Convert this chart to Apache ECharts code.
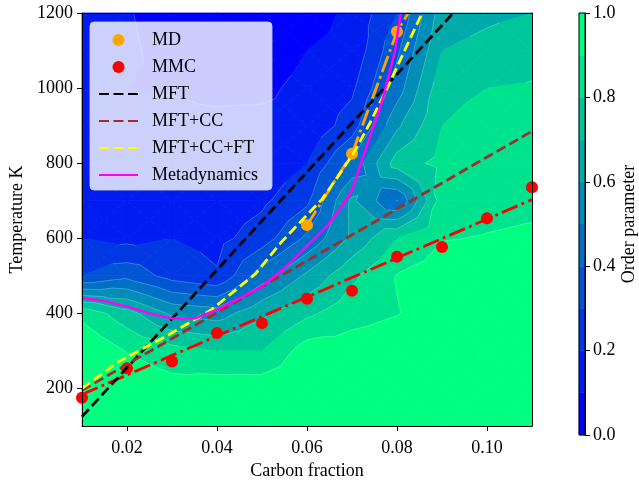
<!DOCTYPE html>
<html><head><meta charset="utf-8">
<script src="https://cdn.jsdelivr.net/npm/echarts@6/dist/echarts.min.js"></script>
<style>html,body{margin:0;padding:0;background:#fff}#c{width:639px;height:485px}</style>
</head><body><div id="c"></div>
<script>
// ---------------- data ----------------
const carbon = [0.01,0.02,0.03,0.04,0.05,0.06,0.07,0.08,0.09,0.10,0.11];
const temps = [100,200,300,400,500,600,700,800,900,1000,1100,1200];
// order parameter, one row per temperature (ascending), one column per carbon fraction
const order = [
 [1.00,1.00,1.00,0.98,0.98,1.00,1.00,1.00,1.00,1.00,1.00],
 [1.00,0.98,0.94,0.96,0.96,0.98,0.99,0.99,1.00,1.00,1.00],
 [1.00,0.895,0.84,0.80,0.80,0.95,0.95,0.97,0.98,0.99,0.99],
 [0.87,0.74,0.58,0.55,0.68,0.78,0.86,0.895,0.96,0.97,0.98],
 [0.30,0.37,0.26,0.21,0.45,0.62,0.78,0.905,0.95,0.97,0.98],
 [0.20,0.17,0.20,0.17,0.25,0.42,0.62,0.80,0.895,0.905,0.915],
 [0.14,0.14,0.15,0.14,0.18,0.28,0.62,0.395,0.85,0.87,0.88],
 [0.13,0.13,0.13,0.13,0.13,0.20,0.42,0.75,0.83,0.86,0.86],
 [0.13,0.12,0.12,0.12,0.12,0.12,0.25,0.58,0.80,0.84,0.84],
 [0.12,0.10,0.095,0.08,0.085,0.12,0.18,0.45,0.77,0.80,0.81],
 [0.12,0.11,0.08,0.05,0.06,0.10,0.12,0.38,0.70,0.73,0.76],
 [0.12,0.105,0.07,0.05,0.05,0.06,0.12,0.30,0.65,0.68,0.70]
];
const levels = [0,0.1,0.2,0.3,0.4,0.5,0.6,0.7,0.8,0.9,1.0];

const mdX = [0.06,0.07,0.08];
const mdT = [635,825,1150];
const mdFitX = [0.06,0.07,0.08,0.0825];
const mdFitT = [635,825,1150,1200];

const mmcX = [0.01,0.02,0.03,0.04,0.05,0.06,0.07,0.08,0.09,0.10,0.11];
const mmcT = [175,254,272,348,374,439,460,551,577,653,736];
const mmcFitX = [0.01,0.11];
const mmcFitT = [184,703];

const mftX = [0.01,0.0925];
const mftT = [125,1200];
const mftCcX = [0.01,0.11];
const mftCcT = [195,885];
const mftCcFtX = [0.01,0.0182,0.0293,0.0388,0.0486,0.0544,0.0634,0.0675,0.071,0.0739,0.0783,0.082,0.0856];
const mftCcFtT = [200,272,343,410,506,591,705,775,840,905,1012,1108,1200];
const metaX = [0.01,0.015,0.02,0.025,0.03,0.035,0.04,0.045,0.05,0.055,0.06,0.0645,0.0675,0.07,0.072,0.074,0.0767,0.0796,0.0808];
const metaT = [441,433,418,400,386,386,410,440,472,520,580,633,680,728,800,870,965,1100,1200];

const xTicks = [0.02,0.04,0.06,0.08,0.10];
const yTicks = [200,400,600,800,1000,1200];
const cbTicks = [0,0.2,0.4,0.6,0.8,1.0];

// ---------------- helpers ----------------
const FONT = 'Liberation Serif';
function winter(t){ return 'rgb(0,' + Math.round(255*t) + ',' + Math.round(255*(1-0.5*t)) + ')'; }
const nBands = levels.length - 1;
const bandColors = levels.slice(0,-1).map((_,k)=>winter(k/(nBands-1)));

function clip(poly, level, above){
  const out = [];
  for (let i=0;i<poly.length;i++){
    const a = poly[i], b = poly[(i+1)%poly.length];
    const ia = above ? a.v >= level : a.v <= level;
    const ib = above ? b.v >= level : b.v <= level;
    if (ia) out.push(a);
    if (ia !== ib){
      const t = (level - a.v)/(b.v - a.v);
      out.push({x:a.x+t*(b.x-a.x), y:a.y+t*(b.y-a.y), v:level});
    }
  }
  return out;
}
const tris = [];
for (let j=0;j<temps.length-1;j++){
  for (let i=0;i<carbon.length-1;i++){
    const p00={x:carbon[i],y:temps[j],v:order[j][i]};
    const p10={x:carbon[i+1],y:temps[j],v:order[j][i+1]};
    const p01={x:carbon[i],y:temps[j+1],v:order[j+1][i]};
    const p11={x:carbon[i+1],y:temps[j+1],v:order[j+1][i+1]};
    const c={x:(p00.x+p10.x)/2,y:(p00.y+p01.y)/2,v:(p00.v+p10.v+p01.v+p11.v)/4};
    tris.push([p00,p10,c],[p10,p11,c],[p11,p01,c],[p01,p00,c]);
  }
}
const bandPolys = [];
tris.forEach(tri=>{
  for (let k=0;k<nBands;k++){
    let p = clip(tri, levels[k], true);
    if (p.length<3) continue;
    p = clip(p, levels[k+1], false);
    if (p.length<3) continue;
    bandPolys.push({k:k, pts:p.map(q=>[q.x,q.y])});
  }
});
const segs = [];
tris.forEach(tri=>{
  for (let k=1;k<nBands;k++){
    const L = levels[k], pts=[];
    for (let i=0;i<3;i++){
      const a=tri[i], b=tri[(i+1)%3];
      if ((a.v-L)*(b.v-L)<0){
        const t=(L-a.v)/(b.v-a.v);
        pts.push([a.x+t*(b.x-a.x), a.y+t*(b.y-a.y)]);
      }
    }
    if (pts.length===2) segs.push(pts);
  }
});
const cbBands = levels.slice(0,-1).map((lo,k)=>[lo, levels[k+1], k]);

function pairs(xs, ys){ return xs.map((x,i)=>[x, ys[i]]); }
const txt = {fontFamily:FONT, fontSize:18, color:'#000'};
const noSym = {opacity:0};

const chart = echarts.init(document.getElementById('c'), null, {renderer:'canvas'});
chart.setOption({
  animation:false,
  backgroundColor:'#fff',
  grid:[
    {left:82, top:13, width:450, height:422},
    {left:579, top:13, width:21, height:422}
  ],
  legend:{
    left:90, top:22, orient:'vertical',
    backgroundColor:'rgba(255,255,255,0.8)', borderColor:'rgba(204,204,204,0.9)', borderWidth:1, borderRadius:4,
    padding:[9,14,6,8], itemWidth:39, itemHeight:12, itemGap:9,
    textStyle:{fontFamily:FONT, fontSize:18, color:'#000', padding:[0,0,0,9]},
    data:[{name:'MD',icon:'circle'},{name:'MMC',icon:'circle'},
          {name:'MFT',itemStyle:noSym},{name:'MFT+CC',itemStyle:noSym},
          {name:'MFT+CC+FT',itemStyle:noSym},{name:'Metadynamics',itemStyle:noSym}]
  },
  xAxis:[
    {type:'value', gridIndex:0, min:0.01, max:0.11, position:'bottom', z:10,
     axisLine:{show:true,onZero:false,lineStyle:{color:'#000',width:1}},
     axisTick:{show:true,customValues:xTicks,length:5,lineStyle:{color:'#000'}},
     axisLabel:{customValues:xTicks, formatter:v=>v.toFixed(2), margin:13, ...txt},
     splitLine:{show:false},
     name:'Carbon fraction', nameLocation:'middle', nameGap:36, nameTextStyle:txt},
    {type:'value', gridIndex:0, min:0.01, max:0.11, position:'top', z:10,
     axisLine:{show:true,onZero:false,lineStyle:{color:'#000',width:1}},
     axisTick:{show:false}, axisLabel:{show:false}, splitLine:{show:false}},
    {type:'value', gridIndex:1, min:0, max:1, show:false}
  ],
  yAxis:[
    {type:'value', gridIndex:0, min:100, max:1200, position:'left', z:10,
     axisLine:{show:true,onZero:false,lineStyle:{color:'#000',width:1}},
     axisTick:{show:true,customValues:yTicks,length:5,lineStyle:{color:'#000'}},
     axisLabel:{customValues:yTicks, formatter:v=>String(v), margin:9, ...txt},
     splitLine:{show:false},
     name:'Temperature K', nameLocation:'middle', nameRotate:90, nameGap:56, nameTextStyle:txt},
    {type:'value', gridIndex:0, min:100, max:1200, position:'right', z:10,
     axisLine:{show:true,onZero:false,lineStyle:{color:'#000',width:1}},
     axisTick:{show:false}, axisLabel:{show:false}, splitLine:{show:false}},
    {type:'value', gridIndex:1, min:0, max:1, position:'right', z:10,
     axisLine:{show:true,onZero:false,lineStyle:{color:'#000',width:1}},
     axisTick:{show:true,customValues:cbTicks,length:5,lineStyle:{color:'#000'}},
     axisLabel:{customValues:cbTicks, formatter:v=>v.toFixed(1), margin:8, ...txt},
     splitLine:{show:false},
     name:'Order parameter', nameLocation:'middle', nameRotate:90, nameGap:35, nameTextStyle:txt}
  ],
  series:[
    {type:'custom', name:'contour', xAxisIndex:0, yAxisIndex:0, z:1, silent:true,
     data: bandPolys.map(p=>p.pts[0]),
     renderItem:(params, api)=>{
       const p = bandPolys[params.dataIndex];
       return {type:'polygon', shape:{points:p.pts.map(q=>api.coord(q))},
               style:{fill:bandColors[p.k], stroke:bandColors[p.k], lineWidth:0.8}};
     }},
    {type:'custom', name:'contourLines', xAxisIndex:0, yAxisIndex:0, z:1.5, silent:true,
     data: segs.map(s=>s[0]),
     renderItem:(params, api)=>{
       const s = segs[params.dataIndex];
       const a = api.coord(s[0]), b = api.coord(s[1]);
       return {type:'line', shape:{x1:a[0],y1:a[1],x2:b[0],y2:b[1]},
               style:{stroke:'rgba(255,255,255,0.25)', lineWidth:0.8}};
     }},
    {type:'scatter', name:'MD', xAxisIndex:0, yAxisIndex:0, z:3, symbol:'circle', symbolSize:12,
     itemStyle:{color:'#FFA500', opacity:1}, data:pairs(mdX, mdT)},
    {type:'scatter', name:'MMC', xAxisIndex:0, yAxisIndex:0, z:3, symbol:'circle', symbolSize:12,
     itemStyle:{color:'#FF0000', opacity:1}, data:pairs(mmcX, mmcT)},
    {type:'line', name:'MMC fit', xAxisIndex:0, yAxisIndex:0, z:4, symbol:'none',
     lineStyle:{color:'#FF0000', width:2.8, type:[17,4.4,2.8,4.4]}, data:pairs(mmcFitX, mmcFitT)},
    {type:'line', name:'MD fit', xAxisIndex:0, yAxisIndex:0, z:4, symbol:'none',
     lineStyle:{color:'#FFA500', width:2.8, type:[17,4.4,2.8,4.4]}, data:pairs(mdFitX, mdFitT)},
    {type:'line', name:'MFT', xAxisIndex:0, yAxisIndex:0, z:5, symbol:'none',
     itemStyle:{color:'#000'}, lineStyle:{color:'#000', width:2.8, type:[10,4.5]}, data:pairs(mftX, mftT)},
    {type:'line', name:'MFT+CC', xAxisIndex:0, yAxisIndex:0, z:5, symbol:'none',
     itemStyle:{color:'#A52A2A'}, lineStyle:{color:'#A52A2A', width:2.8, type:[10,4.5]}, data:pairs(mftCcX, mftCcT)},
    {type:'line', name:'MFT+CC+FT', xAxisIndex:0, yAxisIndex:0, z:5, symbol:'none',
     itemStyle:{color:'#FFFF00'}, lineStyle:{color:'#FFFF00', width:2.8, type:[10,4.5]}, data:pairs(mftCcFtX, mftCcFtT)},
    {type:'line', name:'Metadynamics', xAxisIndex:0, yAxisIndex:0, z:5, symbol:'none',
     itemStyle:{color:'#FF00FF'}, lineStyle:{color:'#FF00FF', width:2.5}, data:pairs(metaX, metaT)},
    {type:'custom', name:'colorbar', xAxisIndex:2, yAxisIndex:2, z:1, silent:true,
     data: cbBands.map(b=>[0.5, b[0]]),
     renderItem:(params, api)=>{
       const b = cbBands[params.dataIndex];
       const p0 = api.coord([0, b[0]]), p1 = api.coord([1, b[1]]);
       return {type:'rect', shape:{x:p0[0], y:p1[1], width:p1[0]-p0[0], height:p0[1]-p1[1]},
               style:{fill:bandColors[b[2]], stroke:bandColors[b[2]], lineWidth:0.5}};
     }},
    {type:'custom', name:'colorbarFrame', xAxisIndex:2, yAxisIndex:2, z:6, silent:true,
     data:[[0,0]],
     renderItem:(params, api)=>{
       const p0 = api.coord([0, 0]), p1 = api.coord([1, 1]);
       return {type:'rect', shape:{x:p0[0], y:p1[1], width:p1[0]-p0[0], height:p0[1]-p1[1]},
               style:{fill:'none', stroke:'#000', lineWidth:1}};
     }}
  ]
});
</script></body></html>
